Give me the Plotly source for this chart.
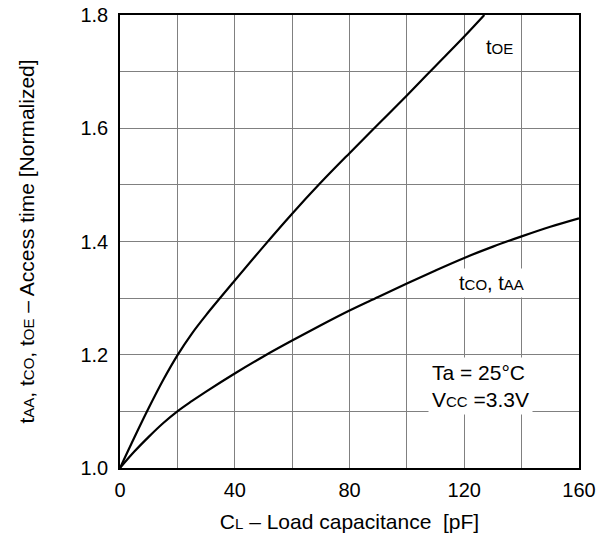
import plotly.graph_objects as go

# Data
cl_oe = [0, 5, 10, 15, 20, 25, 30, 40, 50, 60, 70, 80, 90, 100, 110, 120, 127]
t_oe = [1.0, 1.054, 1.106, 1.155, 1.199, 1.237, 1.27, 1.331, 1.391, 1.449, 1.504, 1.556, 1.607,
        1.658, 1.71, 1.762, 1.8]

cl_co = [0, 5, 10, 15, 20, 25, 30, 40, 50, 60, 70, 80, 90, 100, 110, 120, 130, 140, 150, 160]
t_co = [1.0, 1.029, 1.055, 1.079, 1.1, 1.118, 1.135, 1.167, 1.197, 1.225, 1.252, 1.278,
        1.302, 1.326, 1.349, 1.371, 1.391, 1.409, 1.426, 1.441]

x_ticks = [0, 40, 80, 120, 160]
y_ticks = [1.0, 1.2, 1.4, 1.6, 1.8]
y_tick_text = ["1.0", "1.2", "1.4", "1.6", "1.8"]

FONT = "Liberation Sans, Arial, Helvetica, sans-serif"
SM = "<span style='font-size:15px'>"
E = "</span>"

fig = go.Figure()
line_style = dict(color="black", width=2.2, shape="spline", smoothing=1.0)
fig.add_trace(go.Scatter(x=cl_oe, y=t_oe, mode="lines", line=line_style, showlegend=False, hoverinfo="skip"))
fig.add_trace(go.Scatter(x=cl_co, y=t_co, mode="lines", line=line_style, showlegend=False, hoverinfo="skip"))

fig.add_annotation(x=132.4, y=1.743, text="t" + SM + "OE" + E, showarrow=False,
                   font=dict(family=FONT, size=20, color="black"), bgcolor="white", borderpad=4)
fig.add_annotation(x=129.6, y=1.327, text="t" + SM + "CO" + E + ", t" + SM + "AA" + E, showarrow=False,
                   font=dict(family=FONT, size=20, color="black"), bgcolor="white", borderpad=3)
fig.add_annotation(x=125.8, y=1.145, text="Ta = 25°C<br>V" + SM + "CC" + E + " =3.3V", showarrow=False,
                   font=dict(family=FONT, size=21, color="black"), bgcolor="white", borderpad=3,
                   align="left")

fig.update_layout(
    width=607, height=535,
    margin=dict(l=120, r=28, t=15, b=67),
    paper_bgcolor="white", plot_bgcolor="white",
    font=dict(family=FONT, size=20, color="black"),
    xaxis=dict(range=[0, 160], tickvals=x_ticks, ticks="", showgrid=False, automargin=False,
               ticklabelstandoff=3,
               showline=True, linecolor="black", linewidth=1.5, mirror=True,
               zeroline=False, tickfont=dict(size=20),
               minor=dict(dtick=20, tick0=0, showgrid=True, gridcolor="#808080", gridwidth=1),
               title=dict(text="C" + SM + "L" + E + " – Load capacitance \u00a0[pF]", font=dict(size=21), standoff=15)),
    yaxis=dict(range=[1.0, 1.8], tickvals=y_ticks, ticktext=y_tick_text, ticks="", showgrid=False,
               automargin=False, ticklabelstandoff=6,
               showline=True, linecolor="black", linewidth=1.5, mirror=True, zeroline=False,
               tickfont=dict(size=20),
               minor=dict(dtick=0.1, tick0=1.0, showgrid=True, gridcolor="#808080", gridwidth=1),
               title=dict(text="t" + SM + "AA" + E + ", t" + SM + "CO" + E + ", t" + SM + "OE" + E +
                          " – Access time [Normalized]", font=dict(size=21), standoff=40)),
)

fig.write_html("out.html", config={"displayModeBar": False},
               post_script="document.body.style.margin='0px';")
